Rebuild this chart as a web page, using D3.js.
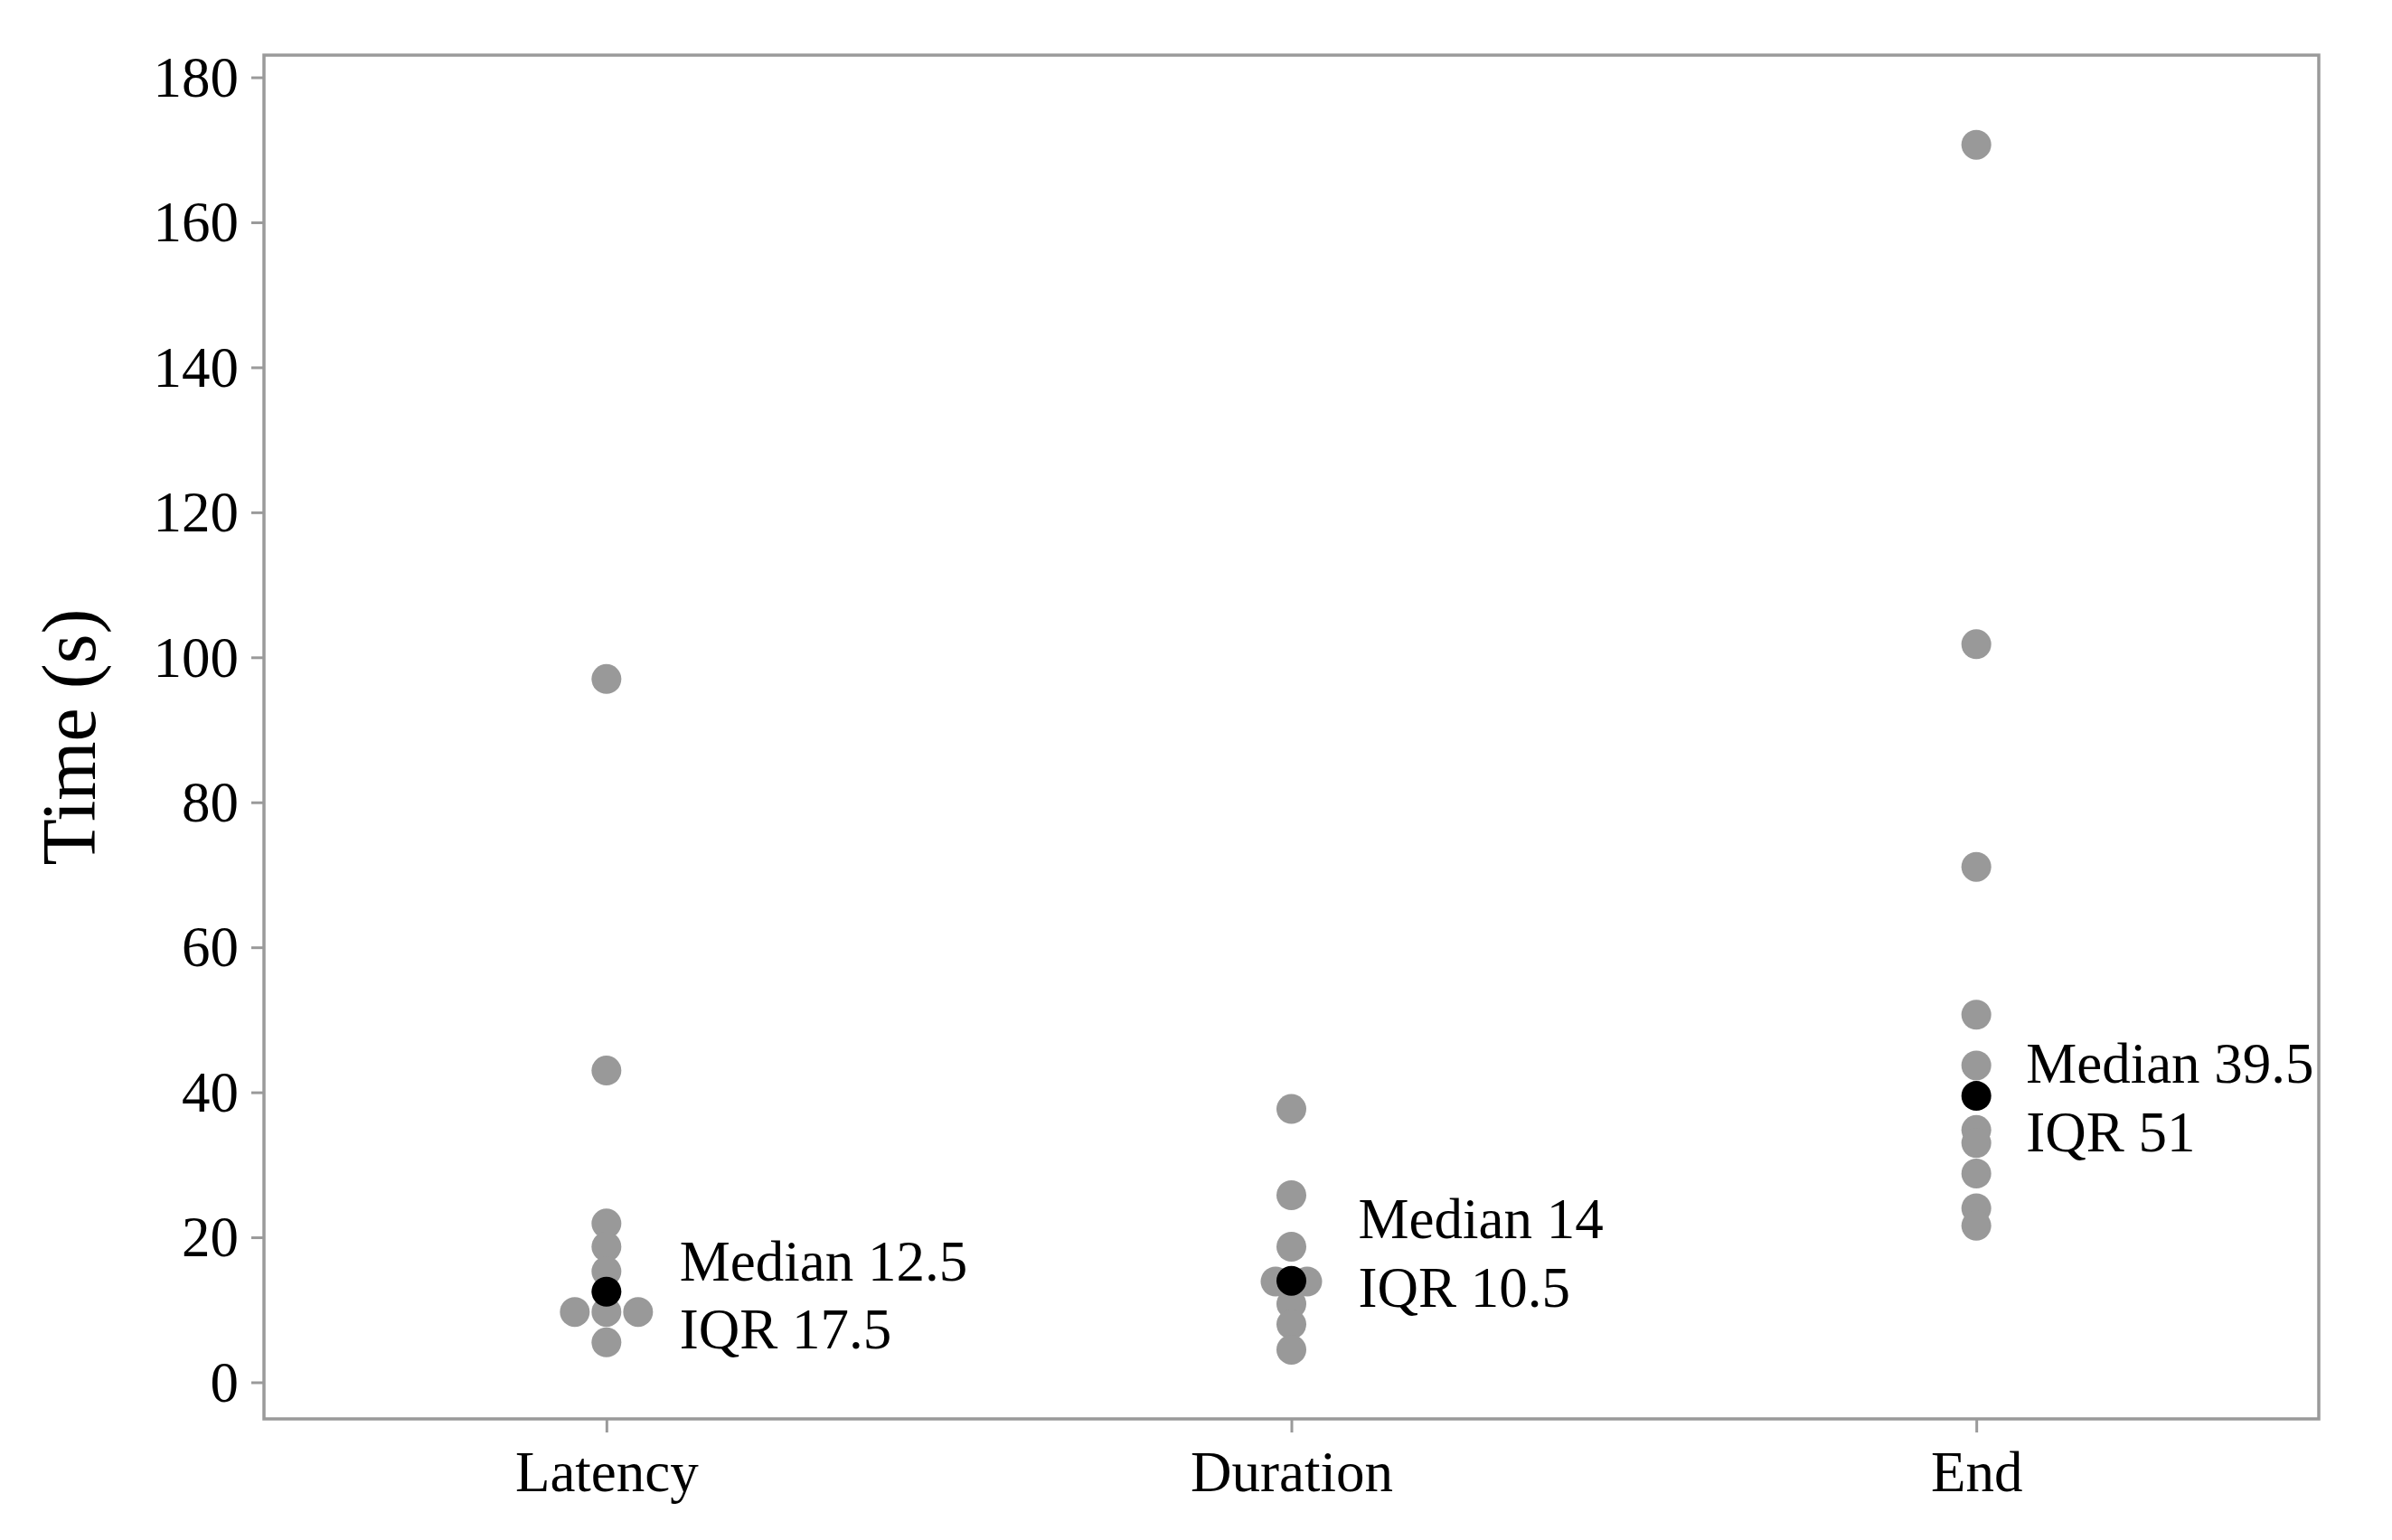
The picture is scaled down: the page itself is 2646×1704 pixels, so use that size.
<!DOCTYPE html>
<html>
<head>
<meta charset="utf-8">
<script src="https://cdn.jsdelivr.net/npm/d3@7"></script>
<style>
  html, body { margin: 0; padding: 0; background: #ffffff; }
  svg { display: block; }
</style>
</head>
<body>
<svg id="chart" width="2646" height="1704"></svg>
<script>
// ---- data ----
const categories = ["Latency", "Duration", "End"];
const latencyValues = [97, 43, 21.9, 18.7, 15.3, 9.7, 9.7, 9.7, 5.5];
const durationValues = [37.7, 25.8, 18.7, 13.9, 13.9, 10.8, 8.0, 4.5];
const endValues = [170.7, 101.8, 71.1, 50.7, 43.7, 34.8, 33.0, 28.8, 24.0, 21.6];
const medians = [12.5, 14, 39.5];
const iqrs = [17.5, 10.5, 51];
const labelY = [9.35, 15.15, 36.6];
const yTicks = [0, 20, 40, 60, 80, 100, 120, 140, 160, 180];
const yTitle = "Time (s)";

// ---- layout ----
const W = 2646, H = 1704;
const panel = { left: 292, right: 2565, top: 61, bottom: 1570 };
const yDomain = [-5.05, 183.06];
const dotR = 16.5;
const dodgeStep = 35;
const labelDx = [81, 74, 55];
const lineGap = 75.6;
const font = "'Liberation Serif', 'Times New Roman', serif";
const grey = "#999999";
const axisGrey = "#9a9a9a";

const svg = d3.select("#chart");
svg.append("rect").attr("width", W).attr("height", H).attr("fill", "#fff");

const x = d3.scalePoint().domain(categories).range([panel.left, panel.right]).padding(0.5);
const y = d3.scaleLinear().domain(yDomain).range([panel.bottom, panel.top]);

// ---- axes ----
const yAxis = svg.append("g")
  .attr("transform", `translate(${panel.left},0)`)
  .call(d3.axisLeft(y).tickValues(yTicks).tickSize(14).tickPadding(14));
const xAxis = svg.append("g")
  .attr("transform", `translate(0,${panel.bottom})`)
  .call(d3.axisBottom(x).tickSize(15).tickPadding(20));

[yAxis, xAxis].forEach(g => {
  g.select(".domain").remove();
  g.selectAll(".tick line").attr("stroke", axisGrey).attr("stroke-width", 3);
  g.selectAll(".tick text")
    .attr("fill", "#000")
    .style("font-family", font)
    .style("font-size", "63px");
});
yAxis.selectAll(".tick text").attr("dy", "0.33em");
xAxis.selectAll(".tick text").attr("dy", "0.72em");

// ---- panel border ----
svg.append("rect")
  .attr("x", panel.left).attr("y", panel.top)
  .attr("width", panel.right - panel.left)
  .attr("height", panel.bottom - panel.top)
  .attr("fill", "none")
  .attr("stroke", axisGrey)
  .attr("stroke-width", 3.5);

// ---- points ----
const series = [latencyValues, durationValues, endValues];
const points = [];
series.forEach((vals, ci) => {
  const groups = d3.group(vals, v => v);
  groups.forEach((arr, v) => {
    arr.forEach((_, i) => {
      points.push({ cat: categories[ci], value: v, offset: (i - (arr.length - 1) / 2) * dodgeStep });
    });
  });
});

svg.append("g").selectAll("circle")
  .data(points)
  .join("circle")
  .attr("cx", d => x(d.cat) + d.offset)
  .attr("cy", d => y(d.value))
  .attr("r", dotR)
  .attr("fill", grey);

svg.append("g").selectAll("circle")
  .data(medians)
  .join("circle")
  .attr("cx", (d, i) => x(categories[i]))
  .attr("cy", d => y(d))
  .attr("r", dotR)
  .attr("fill", "#000");

// ---- annotations ----
const ann = svg.append("g")
  .style("font-family", font)
  .style("font-size", "63px")
  .attr("fill", "#000");
categories.forEach((c, i) => {
  const cx = x(c) + labelDx[i];
  const cy = y(labelY[i]);
  const t = ann.append("text").attr("x", cx).attr("y", cy - lineGap / 2);
  t.append("tspan").attr("x", cx).attr("y", cy - lineGap / 2).text(`Median ${medians[i]}`);
  t.append("tspan").attr("x", cx).attr("y", cy + lineGap / 2).text(`IQR ${iqrs[i]}`);
});

// ---- y title ----
svg.append("text")
  .attr("transform", `translate(105,${(panel.top + panel.bottom) / 2}) rotate(-90)`)
  .attr("text-anchor", "middle")
  .style("font-family", font)
  .style("font-size", "84px")
  .attr("fill", "#000")
  .text(yTitle);
</script>
</body>
</html>
